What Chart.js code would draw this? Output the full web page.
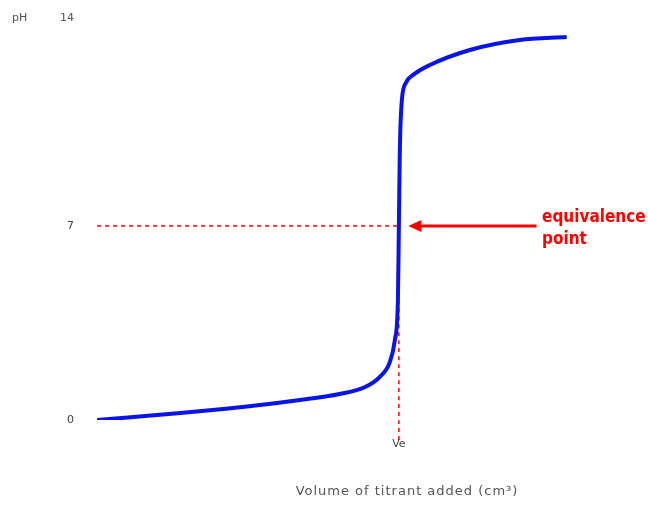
<!DOCTYPE html>
<html>
<head>
<meta charset="utf-8">
<script src="https://cdn.jsdelivr.net/npm/chart.js@4/dist/chart.umd.min.js"></script>
<style>
  html, body { margin: 0; padding: 0; background: #fff; }
  #wrap { width: 648px; height: 508px; }
</style>
</head>
<body>
<div id="wrap"><canvas id="chart"></canvas></div>
<script>
// titration curve
const volume = [0, 6.9, 13.5, 16.8, 20.1, 22.2, 23.4, 24.25, 24.67, 24.92, 25, 25.08, 25.25, 25.58, 26.3, 27.57, 30.88, 35.0, 38.9];
const pH = [0, 0.25, 0.54, 0.72, 0.94, 1.19, 1.55, 2.09, 2.89, 4.33, 7, 9.74, 11.55, 12.16, 12.49, 12.81, 13.35, 13.71, 13.82];

const eqVolume = 25;
const eqPH = 7;
const yTicks = [0, 7];
const yTickLabels = { 0: "0", 7: "7" };
const topLabel = "14";
const xTickLabel = "Ve";
const xTitle = "Volume of titrant added (cm³)";
const yTitle = "pH";
const arrowFrom = 36.4;
const arrowTo = 26.2;
const noteLines = ["equivalence", "point"];

const curve = volume.map((v, i) => ({ x: v, y: pH[i] }));

const notes = {
	id: "notes",
	afterDatasetsDraw(chart) {
		const c = chart.ctx;
		const xs = chart.scales.x, ys = chart.scales.y;
		c.save();
		// arrow head
		const hx = xs.getPixelForValue(arrowTo) - 5;
		const hy = ys.getPixelForValue(eqPH);
		c.fillStyle = "#ff0000";
		c.beginPath();
		c.moveTo(hx, hy);
		c.lineTo(hx + 13, hy - 6);
		c.lineTo(hx + 13, hy + 6);
		c.closePath();
		c.fill();
		// label
		c.font = "bold 17px 'DejaVu Sans Condensed', sans-serif";
		c.textBaseline = "middle";
		c.fillText(noteLines[0], 542, hy - 8);
		c.fillText(noteLines[1], 542, hy + 14);
		// pH title and top value
		c.fillStyle = "#555";
		c.font = "11px 'DejaVu Sans', sans-serif";
		c.fillText(yTitle, 12, 18);
		c.textAlign = "right";
		c.fillText(topLabel, 74, 18);
		// x title
		c.textAlign = "center";
		c.font = "13px 'DejaVu Sans', sans-serif";
		c.letterSpacing = "1px";
		c.fillText(xTitle, 407, 492);
		c.restore();
	}
};

const ctx = document.getElementById("chart").getContext("2d");
window.chart = new Chart(ctx, {
	type: "scatter",
	data: {
		datasets: [
			{
				data: curve,
				showLine: true,
				borderColor: "#0a14e6",
				borderWidth: 4,
				pointRadius: 0,
				cubicInterpolationMode: "monotone",
				fill: false
			},
			{
				data: [{ x: 0, y: eqPH }, { x: eqVolume, y: eqPH }, { x: eqVolume, y: -0.78 }],
				showLine: true,
				borderColor: "#ff0000",
				borderWidth: 1.5,
				borderDash: [4, 4],
				pointRadius: 0,
				clip: false
			},
			{
				data: [{ x: arrowFrom, y: eqPH }, { x: arrowTo, y: eqPH }],
				showLine: true,
				borderColor: "#ff0000",
				borderWidth: 3,
				pointRadius: 0,
				clip: false
			}
		]
	},
	options: {
		responsive: true,
		maintainAspectRatio: false,
		animation: false,
		layout: { padding: { top: 32, right: 68, left: 0, bottom: 0 } },
		plugins: { legend: { display: false }, tooltip: { enabled: false } },
		scales: {
			x: {
				type: "linear",
				min: 0,
				max: 40,
				grid: { display: false, drawTicks: false },
				border: { display: false },
				afterBuildTicks: s => { s.ticks = [{ value: eqVolume }]; },
				afterFit: s => { s.height = 88; },
				ticks: {
					padding: 18,
					color: "#444",
					font: { size: 11, family: "DejaVu Sans" },
					callback: () => xTickLabel
				}
			},
			y: {
				type: "linear",
				min: 0,
				max: 14,
				grid: { display: false, drawTicks: false },
				border: { display: false },
				afterBuildTicks: s => { s.ticks = yTicks.map(v => ({ value: v })); },
				afterFit: s => { s.width = 97; },
				ticks: {
					padding: 23,
					color: "#444",
					font: { size: 11, family: "DejaVu Sans" },
					callback: v => yTickLabels[v]
				}
			}
		}
	},
	plugins: [notes]
});
</script>
</body>
</html>
